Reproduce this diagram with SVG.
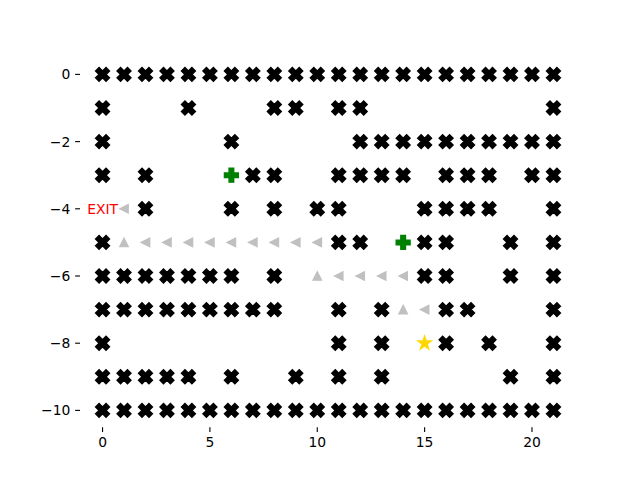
<svg xmlns="http://www.w3.org/2000/svg" xmlns:xlink="http://www.w3.org/1999/xlink" width="640" height="480" viewBox="0 0 640 480">
<style>
.t{font-family:"DejaVu Sans",sans-serif;font-size:13.89px;fill:#000}
.tick{stroke:#000;stroke-width:1.11}
</style>
<defs>
<path id="X" d="M-3.47,-6.95 L0,-3.47 L3.47,-6.95 L6.95,-3.47 L3.47,0 L6.95,3.47 L3.47,6.95 L0,3.47 L-3.47,6.95 L-6.95,3.47 L-3.47,0 L-6.95,-3.47 Z" fill="#000" stroke="#000" stroke-width="1.39" stroke-linejoin="miter"/>
<path id="P" d="M-2.32,-6.95 L2.32,-6.95 L2.32,-2.32 L6.95,-2.32 L6.95,2.32 L2.32,2.32 L2.32,6.95 L-2.32,6.95 L-2.32,2.32 L-6.95,2.32 L-6.95,-2.32 L-2.32,-2.32 Z" fill="#008000" stroke="#008000" stroke-width="1.39"/>
<path id="L" d="M-4.17,0 L4.17,-4.17 L4.17,4.17 Z" fill="#c0c0c0" stroke="#c0c0c0" stroke-width="1.39" stroke-linejoin="miter"/>
<path id="U" d="M0,-4.17 L4.17,4.17 L-4.17,4.17 Z" fill="#c0c0c0" stroke="#c0c0c0" stroke-width="1.39" stroke-linejoin="miter"/>
<path id="S" d="M0,-6.95 L1.56,-2.15 L6.61,-2.15 L2.53,0.82 L4.09,5.62 L0,2.66 L-4.09,5.62 L-2.53,0.82 L-6.61,-2.15 L-1.56,-2.15 Z" fill="#ffd700" stroke="#ffd700" stroke-width="1.39"/>
</defs>
<rect width="640" height="480" fill="#fff"/>
<g id="axes">
<g id="xticks">
<line class="tick" x1="102.55" y1="427.2" x2="102.55" y2="432.06"/>
<line class="tick" x1="209.9" y1="427.2" x2="209.9" y2="432.06"/>
<line class="tick" x1="317.26" y1="427.2" x2="317.26" y2="432.06"/>
<line class="tick" x1="424.62" y1="427.2" x2="424.62" y2="432.06"/>
<line class="tick" x1="531.98" y1="427.2" x2="531.98" y2="432.06"/>
<text class="t" x="102.55" y="447" text-anchor="middle">0</text>
<text class="t" x="209.9" y="447" text-anchor="middle">5</text>
<text class="t" x="317.26" y="447" text-anchor="middle">10</text>
<text class="t" x="424.62" y="447" text-anchor="middle">15</text>
<text class="t" x="531.98" y="447" text-anchor="middle">20</text>
</g>
<g id="yticks">
<line class="tick" x1="75.14" y1="74.4" x2="80" y2="74.4"/>
<line class="tick" x1="75.14" y1="141.6" x2="80" y2="141.6"/>
<line class="tick" x1="75.14" y1="208.8" x2="80" y2="208.8"/>
<line class="tick" x1="75.14" y1="276" x2="80" y2="276"/>
<line class="tick" x1="75.14" y1="343.2" x2="80" y2="343.2"/>
<line class="tick" x1="75.14" y1="410.4" x2="80" y2="410.4"/>
<text class="t" x="70.3" y="79.4" text-anchor="end">0</text>
<text class="t" x="70.3" y="146.6" text-anchor="end">−2</text>
<text class="t" x="70.3" y="213.8" text-anchor="end">−4</text>
<text class="t" x="70.3" y="281" text-anchor="end">−6</text>
<text class="t" x="70.3" y="348.2" text-anchor="end">−8</text>
<text class="t" x="70.3" y="415.4" text-anchor="end">−10</text>
</g>
</g>
<g id="path-markers">
<use href="#L" x="124.02" y="208.8"/>
<use href="#U" x="124.02" y="242.4"/>
<use href="#L" x="145.49" y="242.4"/><use href="#L" x="166.96" y="242.4"/><use href="#L" x="188.43" y="242.4"/><use href="#L" x="209.9" y="242.4"/><use href="#L" x="231.38" y="242.4"/><use href="#L" x="252.85" y="242.4"/><use href="#L" x="274.32" y="242.4"/><use href="#L" x="295.79" y="242.4"/><use href="#L" x="317.26" y="242.4"/>
<use href="#U" x="317.26" y="276"/>
<use href="#L" x="338.74" y="276"/><use href="#L" x="360.21" y="276"/><use href="#L" x="381.68" y="276"/><use href="#L" x="403.15" y="276"/>
<use href="#U" x="403.15" y="309.6"/>
<use href="#L" x="424.62" y="309.6"/>
</g>
<g id="walls">
<g id="row0">
<use href="#X" x="102.55" y="74.4"/><use href="#X" x="124.02" y="74.4"/><use href="#X" x="145.49" y="74.4"/><use href="#X" x="166.96" y="74.4"/><use href="#X" x="188.43" y="74.4"/><use href="#X" x="209.9" y="74.4"/><use href="#X" x="231.38" y="74.4"/><use href="#X" x="252.85" y="74.4"/><use href="#X" x="274.32" y="74.4"/><use href="#X" x="295.79" y="74.4"/><use href="#X" x="317.26" y="74.4"/><use href="#X" x="338.74" y="74.4"/><use href="#X" x="360.21" y="74.4"/><use href="#X" x="381.68" y="74.4"/><use href="#X" x="403.15" y="74.4"/><use href="#X" x="424.62" y="74.4"/><use href="#X" x="446.1" y="74.4"/><use href="#X" x="467.57" y="74.4"/><use href="#X" x="489.04" y="74.4"/><use href="#X" x="510.51" y="74.4"/><use href="#X" x="531.98" y="74.4"/><use href="#X" x="553.45" y="74.4"/>
</g>
<g id="row1">
<use href="#X" x="102.55" y="108"/><use href="#X" x="188.43" y="108"/><use href="#X" x="274.32" y="108"/><use href="#X" x="295.79" y="108"/><use href="#X" x="338.74" y="108"/><use href="#X" x="360.21" y="108"/><use href="#X" x="553.45" y="108"/>
</g>
<g id="row2">
<use href="#X" x="102.55" y="141.6"/><use href="#X" x="231.38" y="141.6"/><use href="#X" x="360.21" y="141.6"/><use href="#X" x="381.68" y="141.6"/><use href="#X" x="403.15" y="141.6"/><use href="#X" x="424.62" y="141.6"/><use href="#X" x="446.1" y="141.6"/><use href="#X" x="467.57" y="141.6"/><use href="#X" x="489.04" y="141.6"/><use href="#X" x="510.51" y="141.6"/><use href="#X" x="531.98" y="141.6"/><use href="#X" x="553.45" y="141.6"/>
</g>
<g id="row3">
<use href="#X" x="102.55" y="175.2"/><use href="#X" x="145.49" y="175.2"/><use href="#X" x="252.85" y="175.2"/><use href="#X" x="274.32" y="175.2"/><use href="#X" x="338.74" y="175.2"/><use href="#X" x="360.21" y="175.2"/><use href="#X" x="381.68" y="175.2"/><use href="#X" x="403.15" y="175.2"/><use href="#X" x="446.1" y="175.2"/><use href="#X" x="467.57" y="175.2"/><use href="#X" x="489.04" y="175.2"/><use href="#X" x="531.98" y="175.2"/><use href="#X" x="553.45" y="175.2"/>
</g>
<g id="row4">
<use href="#X" x="145.49" y="208.8"/><use href="#X" x="231.38" y="208.8"/><use href="#X" x="274.32" y="208.8"/><use href="#X" x="317.26" y="208.8"/><use href="#X" x="338.74" y="208.8"/><use href="#X" x="424.62" y="208.8"/><use href="#X" x="446.1" y="208.8"/><use href="#X" x="467.57" y="208.8"/><use href="#X" x="489.04" y="208.8"/><use href="#X" x="553.45" y="208.8"/>
</g>
<g id="row5">
<use href="#X" x="102.55" y="242.4"/><use href="#X" x="338.74" y="242.4"/><use href="#X" x="360.21" y="242.4"/><use href="#X" x="424.62" y="242.4"/><use href="#X" x="446.1" y="242.4"/><use href="#X" x="510.51" y="242.4"/><use href="#X" x="553.45" y="242.4"/>
</g>
<g id="row6">
<use href="#X" x="102.55" y="276"/><use href="#X" x="124.02" y="276"/><use href="#X" x="145.49" y="276"/><use href="#X" x="166.96" y="276"/><use href="#X" x="188.43" y="276"/><use href="#X" x="209.9" y="276"/><use href="#X" x="231.38" y="276"/><use href="#X" x="274.32" y="276"/><use href="#X" x="424.62" y="276"/><use href="#X" x="446.1" y="276"/><use href="#X" x="510.51" y="276"/><use href="#X" x="553.45" y="276"/>
</g>
<g id="row7">
<use href="#X" x="102.55" y="309.6"/><use href="#X" x="124.02" y="309.6"/><use href="#X" x="145.49" y="309.6"/><use href="#X" x="166.96" y="309.6"/><use href="#X" x="188.43" y="309.6"/><use href="#X" x="209.9" y="309.6"/><use href="#X" x="231.38" y="309.6"/><use href="#X" x="252.85" y="309.6"/><use href="#X" x="274.32" y="309.6"/><use href="#X" x="338.74" y="309.6"/><use href="#X" x="381.68" y="309.6"/><use href="#X" x="446.1" y="309.6"/><use href="#X" x="467.57" y="309.6"/><use href="#X" x="553.45" y="309.6"/>
</g>
<g id="row8">
<use href="#X" x="102.55" y="343.2"/><use href="#X" x="338.74" y="343.2"/><use href="#X" x="381.68" y="343.2"/><use href="#X" x="446.1" y="343.2"/><use href="#X" x="489.04" y="343.2"/><use href="#X" x="553.45" y="343.2"/>
</g>
<g id="row9">
<use href="#X" x="102.55" y="376.8"/><use href="#X" x="124.02" y="376.8"/><use href="#X" x="145.49" y="376.8"/><use href="#X" x="166.96" y="376.8"/><use href="#X" x="188.43" y="376.8"/><use href="#X" x="231.38" y="376.8"/><use href="#X" x="295.79" y="376.8"/><use href="#X" x="338.74" y="376.8"/><use href="#X" x="381.68" y="376.8"/><use href="#X" x="510.51" y="376.8"/><use href="#X" x="553.45" y="376.8"/>
</g>
<g id="row10">
<use href="#X" x="102.55" y="410.4"/><use href="#X" x="124.02" y="410.4"/><use href="#X" x="145.49" y="410.4"/><use href="#X" x="166.96" y="410.4"/><use href="#X" x="188.43" y="410.4"/><use href="#X" x="209.9" y="410.4"/><use href="#X" x="231.38" y="410.4"/><use href="#X" x="252.85" y="410.4"/><use href="#X" x="274.32" y="410.4"/><use href="#X" x="295.79" y="410.4"/><use href="#X" x="317.26" y="410.4"/><use href="#X" x="338.74" y="410.4"/><use href="#X" x="360.21" y="410.4"/><use href="#X" x="381.68" y="410.4"/><use href="#X" x="403.15" y="410.4"/><use href="#X" x="424.62" y="410.4"/><use href="#X" x="446.1" y="410.4"/><use href="#X" x="467.57" y="410.4"/><use href="#X" x="489.04" y="410.4"/><use href="#X" x="510.51" y="410.4"/><use href="#X" x="531.98" y="410.4"/><use href="#X" x="553.45" y="410.4"/>
</g>
</g>
<g id="specials">
<use id="plus-a" href="#P" x="231.38" y="175.2"/>
<use id="plus-b" href="#P" x="403.15" y="242.4"/>
<use id="star" href="#S" x="424.62" y="343.2"/>
<text id="exit" x="102.55" y="213.8" text-anchor="middle" style="font-family:'DejaVu Sans',sans-serif;font-size:13.89px;fill:#ff0000">EXIT</text>
</g>
</svg>
